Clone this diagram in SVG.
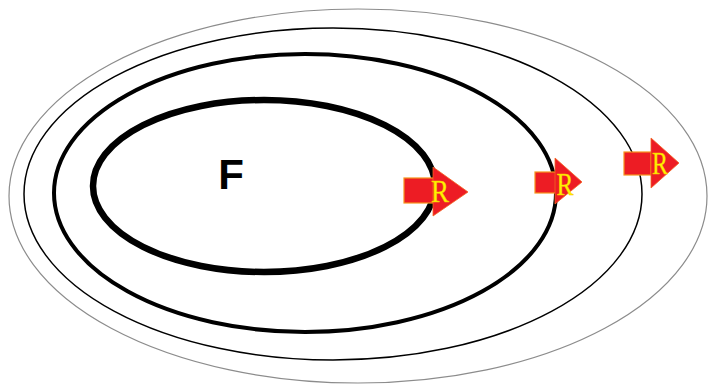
<svg xmlns="http://www.w3.org/2000/svg" width="709" height="388" viewBox="0 0 709 388">
<style>
.ring{fill:none}
.box{fill:#ed1c24;stroke:#f7941d;stroke-width:1.2}
.tri{fill:#ed1c24;stroke:#f26522;stroke-width:0.8}
.r{font-family:"Liberation Serif",serif;fill:#fff200;stroke:#f7c600;stroke-width:0.4;font-size:31px;text-anchor:middle}
</style>
<rect width="709" height="388" fill="#fff"/>
<g id="rings">
<ellipse class="ring" cx="358" cy="196" rx="349" ry="187" stroke="#8c8c8c" stroke-width="1.2"/>
<ellipse class="ring" cx="333" cy="194" rx="309" ry="166" stroke="#000" stroke-width="1.5"/>
<ellipse class="ring" cx="305" cy="193" rx="251" ry="139" stroke="#000" stroke-width="4"/>
<ellipse class="ring" cx="264" cy="186" rx="171" ry="86" stroke="#000" stroke-width="6.5"/>
</g>
<g id="label-F"><text x="231" y="189" font-family="Liberation Sans,Arial,sans-serif" font-weight="bold" font-size="42" text-anchor="middle" fill="#000">F</text></g>
<g id="arrow1">
<rect class="box" x="404" y="178" width="30" height="25"/>
<polygon class="tri" points="433,167 468,192 433,216"/>
<text class="r" x="440" y="202" textLength="18" lengthAdjust="spacingAndGlyphs">R</text>
</g>
<g id="arrow2">
<rect class="box" x="535" y="172" width="21" height="21"/>
<polygon class="tri" points="555,158 582,182 555,204"/>
<text class="r" x="565" y="195" textLength="17" lengthAdjust="spacingAndGlyphs">R</text>
</g>
<g id="arrow3">
<rect class="box" x="624" y="152" width="27" height="23"/>
<polygon class="tri" points="651,138 679,163 651,188"/>
<text class="r" x="660" y="174" textLength="16" lengthAdjust="spacingAndGlyphs">R</text>
</g>
</svg>
